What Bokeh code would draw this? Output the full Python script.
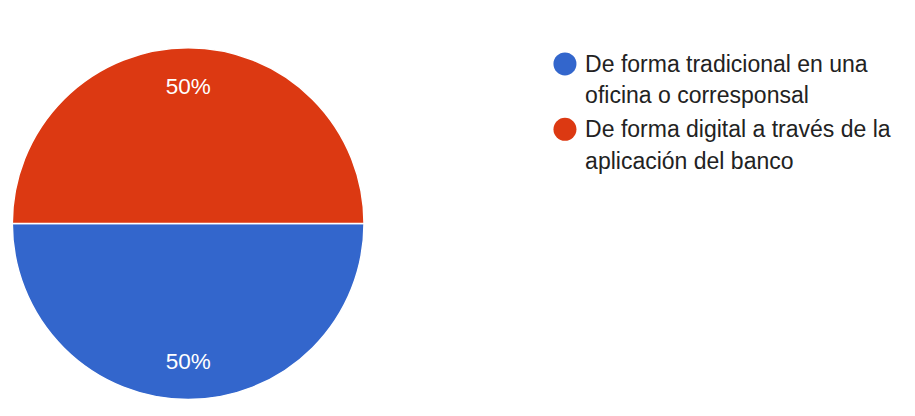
import math
from bokeh.plotting import figure
from bokeh.models import Range1d, ColumnDataSource
from bokeh.core.properties import value
from bokeh.embed import file_html
from bokeh.resources import INLINE

# ---- data ----
categories = ["De forma tradicional en una\noficina o corresponsal",
              "De forma digital a través de la\naplicación del banco"]
shares = [50, 50]
colors = ["#3366cc", "#dc3912"]

W, H = 899, 400          # fits the 915x416 window with its 8px margin
RW, RH = 915, 416        # layout designed in 915x416 units
FONT = "Liberation Sans"

p = figure(width=W, height=H, output_backend="svg", toolbar_location=None,
           x_range=Range1d(0, RW), y_range=Range1d(0, RH),
           min_border=0)
p.axis.visible = False
p.grid.visible = False
p.outline_line_color = None

def py(y):
    return RH - y

cx, cy, r = 191, py(232), 179
total = sum(shares)
start = math.pi
starts, ends, mids = [], [], []
a = start
for s in shares:
    b = a + 2 * math.pi * s / total
    starts.append(a); ends.append(b); mids.append((a + b) / 2)
    a = b

src = ColumnDataSource(dict(start=starts, end=ends, color=colors))
p.wedge(x=cx, y=cy, radius=r, start_angle="start", end_angle="end",
        fill_color="color", line_color="white", line_width=1.5, source=src)

lr = 143
lab = ColumnDataSource(dict(
    x=[cx + lr * math.cos(m) for m in mids],
    y=[cy + lr * math.sin(m) for m in mids],
    t=[f"{s / total * 100:.0f}%" for s in shares]))
p.text(x="x", y="y", text="t", source=lab, text_color="white",
       text_font=value(FONT), text_font_size="22.5px",
       text_align="center", text_baseline="middle")

# legend
lx, tx = 574.5, 595
ys0 = [66, 134]
line_gap = 32.5
p.scatter(x=[lx] * len(categories), y=[py(y) for y in ys0], size=23,
          fill_color=colors, line_color=None, marker="circle")
txs, tys, tts = [], [], []
for i, c in enumerate(categories):
    for j, ln in enumerate(c.split("\n")):
        txs.append(tx); tys.append(py(ys0[i] + j * line_gap)); tts.append(ln)
p.text(x=txs, y=tys, text=tts, text_color="#222222",
       text_font=value(FONT), text_font_size="23px",
       text_align="left", text_baseline="middle")

open("out.html", "w").write(file_html(p, INLINE))
